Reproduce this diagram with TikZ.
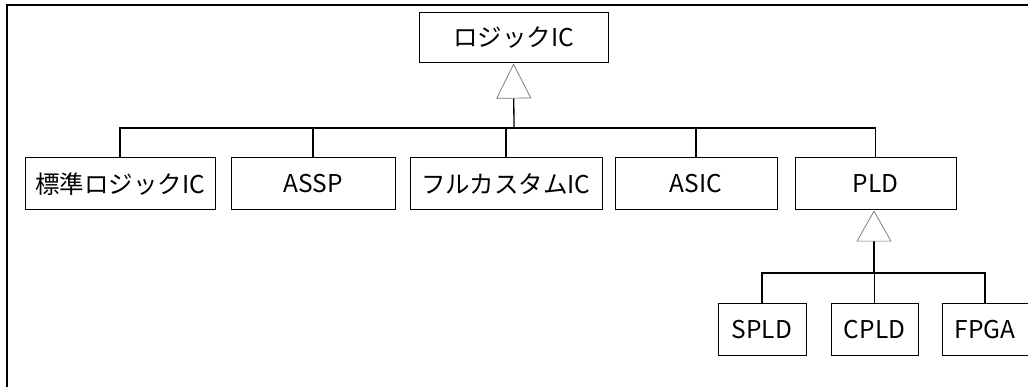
\documentclass[tikz,border=0pt]{standalone}
\usepackage{fontspec}
\setmainfont{Noto Sans CJK JP}
\usetikzlibrary{arrows.meta}
\begin{document}
\begin{tikzpicture}[x=1pt,y=-1pt,
  box/.style={draw=black,line width=1pt,fill=white,inner sep=0pt,
    font=\fontsize{24.5}{28}\selectfont},
  conn/.style={line width=1.3pt,line cap=rect},
  gen/.style={line width=1.3pt,-{Triangle[open,fill=white,color=black!55,line width=0.7pt,length=#1,width=35pt]}},
  frame/.style={line width=1.6pt}]
\useasboundingbox (0,0) rectangle (1028,387);
\draw[frame] (7,387) -- (7,5) -- (1028,5);
% top
\node[box,minimum width=189pt,minimum height=50pt] (top) at (513.5,38) {ロジックIC};
% row 2
\node[box,minimum width=190pt,minimum height=52pt] (n1) at (120,184) {標準ロジックIC};
\node[box,minimum width=164pt,minimum height=52pt] (n2) at (313,184) {ASSP};
\node[box,minimum width=192pt,minimum height=52pt] (n3) at (506,184) {フルカスタムIC};
\node[box,minimum width=162pt,minimum height=52pt] (n4) at (696,184) {ASIC};
\node[box,minimum width=161pt,minimum height=52pt] (n5) at (875.5,184) {PLD};
% row 3
\node[box,minimum width=88pt,minimum height=51pt] (s1) at (762,329.5) {SPLD};
\node[box,minimum width=87pt,minimum height=51pt] (s2) at (874.5,329.5) {CPLD};
\node[box,minimum width=86pt,minimum height=51pt] (s3) at (985,329.5) {FPGA};
% bus 1
\coordinate (b1) at (514,128);
\draw[conn] (n1.north) -- (n1.north |- b1) -- (n5.north |- b1) -- (n5.north);
\draw[conn] (n2.north) -- (n2.north |- b1);
\draw[conn] (n3.north) -- (n3.north |- b1);
\draw[conn] (n4.north) -- (n4.north |- b1);
\draw[gen=35pt] (b1) -- (top.south);
% bus 2
\coordinate (b2) at (874,273);
\draw[conn] (s1.north) -- (s1.north |- b2) -- (s3.north |- b2) -- (s3.north);
\draw[conn] (s2.north) -- (s2.north |- b2);
\draw[gen=31pt] (b2) -- (b2 |- n5.south);
\end{tikzpicture}
\end{document}
